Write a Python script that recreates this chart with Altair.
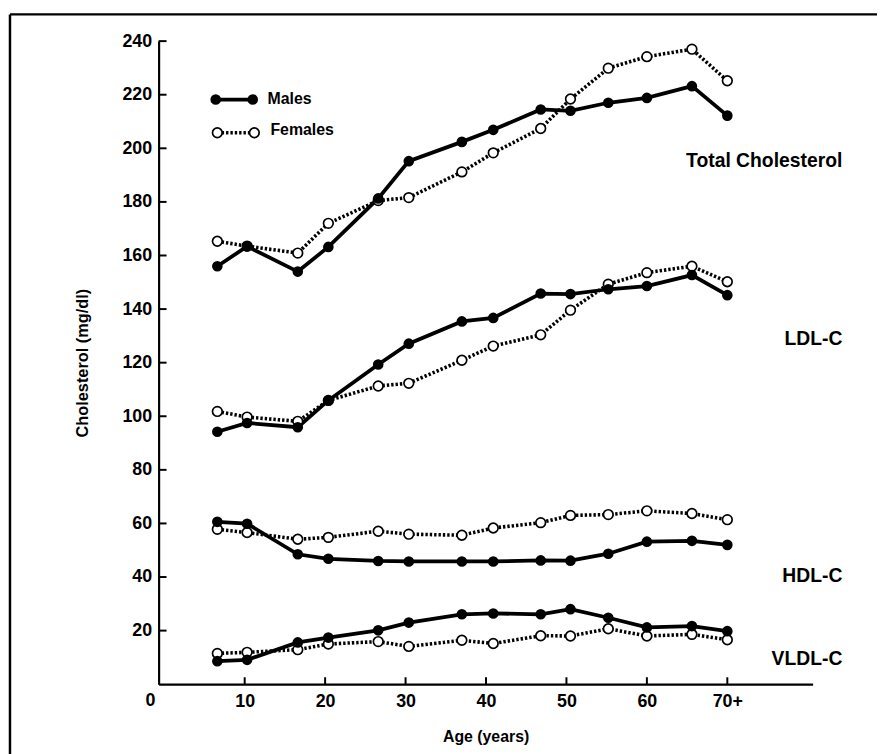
import altair as alt
import pandas as pd

# ---- data ----
ages = [6.6, 10.3, 16.6, 20.4, 26.6, 30.4, 37.0, 40.9, 46.8, 50.5, 55.2, 60.0, 65.6, 70.0]

tc_males = [156.0, 163.4, 154.0, 163.2, 181.3, 195.2, 202.4, 206.9, 214.5, 214.0, 217.0, 218.8, 223.2, 212.2]
tc_females = [165.3, 163.5, 160.9, 172.0, 180.5, 181.6, 191.2, 198.3, 207.4, 218.4, 229.9, 234.2, 237.0, 225.2]
ldl_males = [94.2, 97.5, 95.9, 105.9, 119.3, 127.1, 135.4, 136.7, 145.8, 145.6, 147.4, 148.6, 152.7, 145.2]
ldl_females = [101.8, 99.7, 98.1, 105.9, 111.3, 112.3, 120.9, 126.2, 130.4, 139.6, 149.3, 153.6, 156.0, 150.2]
hdl_males = [60.6, 59.9, 48.5, 46.8, 46.0, 45.8, 45.8, 45.8, 46.2, 46.1, 48.7, 53.2, 53.5, 52.0]
hdl_females = [57.8, 56.6, 54.1, 54.8, 57.1, 56.0, 55.6, 58.3, 60.3, 63.0, 63.3, 64.7, 63.7, 61.4]
vldl_males = [8.6, 9.1, 15.6, 17.4, 20.1, 23.0, 26.1, 26.4, 26.1, 28.0, 24.8, 21.2, 21.7, 19.8]
vldl_females = [11.5, 11.9, 12.9, 15.0, 15.9, 14.1, 16.4, 15.2, 18.1, 18.0, 20.7, 18.0, 18.6, 16.6]

measures = ["Total Cholesterol", "LDL-C", "HDL-C", "VLDL-C"]
male_series = [tc_males, ldl_males, hdl_males, vldl_males]
female_series = [tc_females, ldl_females, hdl_females, vldl_females]

# right-hand curve labels
label_text = ["Total Cholesterol", "LDL-C", "HDL-C", "VLDL-C"]
label_age = [84.3, 84.3, 84.3, 84.3]
label_value = [195.1, 128.7, 40.4, 9.3]

# legend
legend_names = ["Males", "Females"]
legend_male_age = [6.4, 11.0]
legend_male_value = [218.2, 218.2]
legend_female_age = [6.6, 11.2]
legend_female_value = [205.8, 205.8]
legend_text_age = [12.85, 13.2]
legend_text_value = [218.2, 207.0]

# axes
x_ticks = [10, 20, 30, 40, 50, 60, 70]
y_ticks = [20, 40, 60, 80, 100, 120, 140, 160, 180, 200, 220, 240]
zero_label_age = [-1.7]
zero_label_value = [0]
zero_label_text = ["0"]

# ---- build tables ----
rows = []
for name, mv, fv in zip(measures, male_series, female_series):
    for a, v in zip(ages, mv):
        rows.append({"age": a, "value": v, "measure": name, "sex": "Males"})
    for a, v in zip(ages, fv):
        rows.append({"age": a, "value": v, "measure": name, "sex": "Females"})
df = pd.DataFrame(rows)
males = df[df.sex == "Males"]
females = df[df.sex == "Females"]

W, H = 660, 649
FONT = "Liberation Sans"
M_W, F_W = 3.8, 3.6
F_DASH = [2.4, 2.0]
M_SIZE, F_SIZE = 115, 95

x_axis = alt.Axis(
    values=x_ticks,
    labelExpr="datum.value == 70 ? '70+' : datum.label",
    ticks=False, tickSize=0, labelPadding=8,
    domainColor="black", domainWidth=2.2,
    labelFont=FONT, labelFontSize=18, labelFontWeight="bold", labelColor="black",
    grid=False,
    title="Age (years)", titleFont=FONT, titleFontSize=16, titleFontWeight="bold",
    titleColor="black", titleX=W / 2, titleY=53, titleBaseline="middle", titleAlign="center",
)
y_axis = alt.Axis(
    values=y_ticks,
    ticks=False, tickSize=0, labelPadding=7,
    domainColor="black", domainWidth=2.2,
    labelFont=FONT, labelFontSize=18, labelFontWeight="bold", labelColor="black",
    grid=False,
    title="Cholesterol (mg/dl)", titleFont=FONT, titleFontSize=16.5, titleFontWeight="bold",
    titleColor="black", titleX=-77, titleY=H / 2, titleAngle=270,
    titleBaseline="middle", titleAlign="center",
)


def X():
    return alt.X("age:Q", scale=alt.Scale(domain=[-0.7, 80.6], nice=False, zero=False), axis=x_axis)


def Y():
    return alt.Y("value:Q", scale=alt.Scale(domain=[0, 240], nice=False, zero=False), axis=y_axis)


line_m = alt.Chart(males).mark_line(color="black", strokeWidth=M_W).encode(
    x=X(), y=Y(), detail="measure:N")
line_f = alt.Chart(females).mark_line(color="black", strokeWidth=F_W, strokeDash=F_DASH).encode(
    x=X(), y=Y(), detail="measure:N")
pts_f = alt.Chart(females).mark_circle(fill="white", stroke="black", strokeWidth=1.7,
                                       size=F_SIZE, opacity=1).encode(x=X(), y=Y())
pts_m = alt.Chart(males).mark_circle(color="black", size=M_SIZE, opacity=1).encode(x=X(), y=Y())

lab_df = pd.DataFrame({"age": label_age, "value": label_value, "label": label_text})
labels = alt.Chart(lab_df).mark_text(align="right", baseline="middle", font=FONT,
                                     fontSize=19.5, fontWeight="bold", color="black").encode(
    x=X(), y=Y(), text="label:N")

lm_df = pd.DataFrame({"age": legend_male_age, "value": legend_male_value})
lf_df = pd.DataFrame({"age": legend_female_age, "value": legend_female_value})
lt_df = pd.DataFrame({"age": legend_text_age, "value": legend_text_value, "label": legend_names})
leg_line_m = alt.Chart(lm_df).mark_line(color="black", strokeWidth=M_W).encode(x=X(), y=Y())
leg_pts_m = alt.Chart(lm_df).mark_circle(color="black", size=M_SIZE, opacity=1).encode(x=X(), y=Y())
leg_line_f = alt.Chart(lf_df).mark_line(color="black", strokeWidth=F_W, strokeDash=F_DASH).encode(
    x=X(), y=Y())
leg_pts_f = alt.Chart(lf_df).mark_circle(fill="white", stroke="black", strokeWidth=1.7,
                                         size=F_SIZE, opacity=1).encode(x=X(), y=Y())
leg_text = alt.Chart(lt_df).mark_text(align="left", baseline="middle", font=FONT, fontSize=16,
                                      fontWeight="bold", color="black").encode(
    x=X(), y=Y(), text="label:N")

# inward tick marks
yt_df = pd.DataFrame({"value": y_ticks})
y_tick_marks = alt.Chart(yt_df).mark_rule(color="black", strokeWidth=2).encode(
    y=Y(), x=alt.value(0), x2=alt.value(8))
xt_df = pd.DataFrame({"age": x_ticks})
x_tick_marks = alt.Chart(xt_df).mark_rule(color="black", strokeWidth=2).encode(
    x=X(), y=alt.value(H), y2=alt.value(H - 7))

zero_df = pd.DataFrame({"age": zero_label_age, "value": zero_label_value, "label": zero_label_text})
zero_label = alt.Chart(zero_df).mark_text(dy=17, baseline="middle", align="center", font=FONT,
                                          fontSize=18, fontWeight="bold", color="black").encode(
    x=X(), y=Y(), text="label:N")

# figure frame (scanned border)
frame_df = pd.DataFrame({"k": [0]})
frame_top = alt.Chart(frame_df).mark_rule(color="black", strokeWidth=2.5).encode(
    x=alt.value(-150), x2=alt.value(W + 120), y=alt.value(-27))
frame_left = alt.Chart(frame_df).mark_rule(color="black", strokeWidth=2.5).encode(
    x=alt.value(-150), y=alt.value(-27), y2=alt.value(H + 120))

chart = alt.layer(
    frame_top, frame_left,
    y_tick_marks, x_tick_marks,
    line_f, line_m, pts_f, pts_m,
    leg_line_m, leg_pts_m, leg_line_f, leg_pts_f, leg_text,
    labels, zero_label,
).properties(
    width=W, height=H,
    padding={"left": 152, "top": 30, "right": 65, "bottom": 67},
    autosize=alt.AutoSizeParams(type="none"),
    background="white",
).configure_view(strokeWidth=0)

chart.save("out.html", embed_options={"renderer": "svg", "actions": False})
